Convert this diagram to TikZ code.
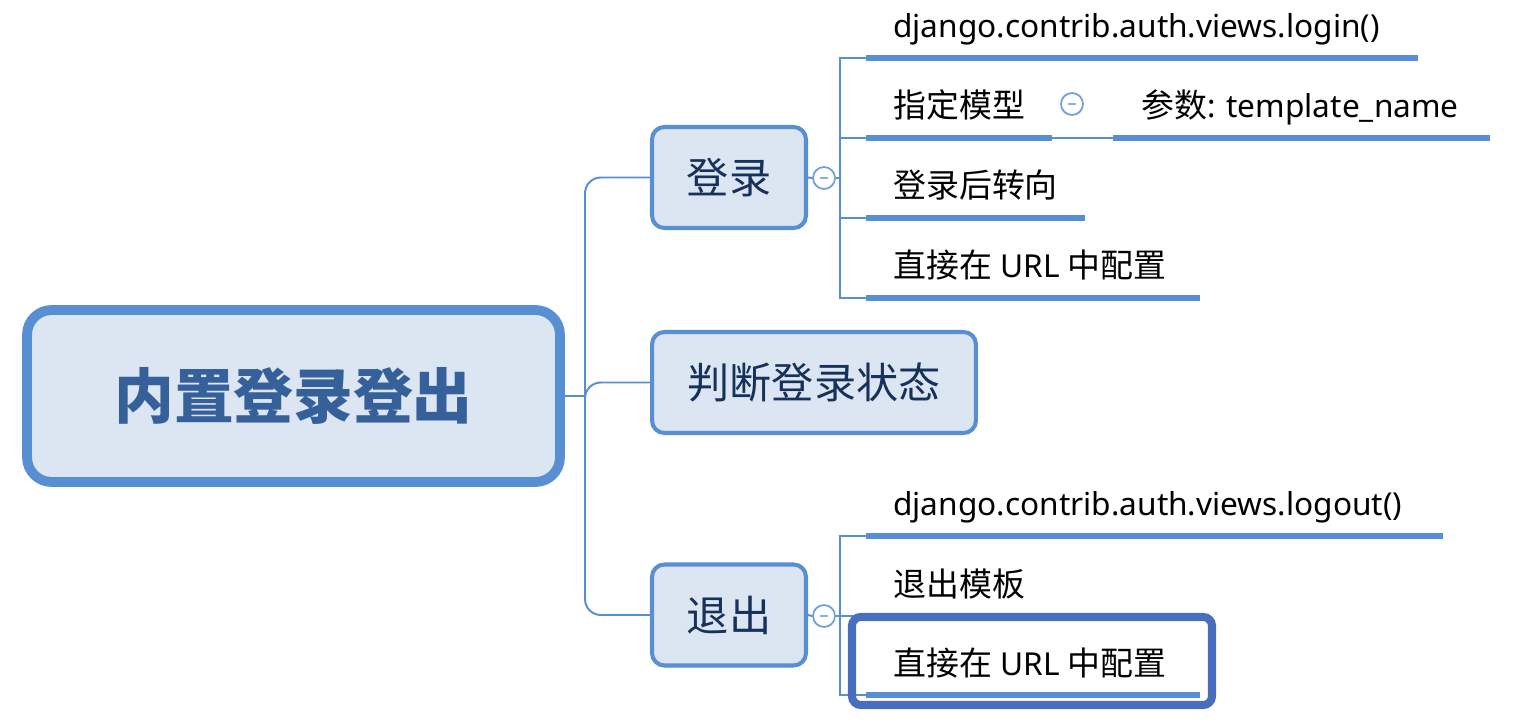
\documentclass[tikz,border=0pt]{standalone}
\usepackage{fontspec}
\setmainfont{Noto Sans}
\newfontfamily\cjk{Noto Sans CJK SC}
\newfontfamily\cjksub{Noto Sans CJK SC}[Scale=1.04]
\usetikzlibrary{positioning,calc}
\definecolor{mapblue}{RGB}{88,142,210}
\definecolor{mapfill}{RGB}{220,230,242}
\definecolor{roottext}{RGB}{53,96,154}
\definecolor{topictext}{RGB}{23,50,90}
\definecolor{selblue}{RGB}{74,110,190}
\definecolor{darkline}{RGB}{37,86,176}
\tikzset{
  rootbox/.style={draw=mapblue, line width=5.6pt, fill=mapfill, rounded corners=14pt,
    minimum width=10.66cm, minimum height=3.44cm, text=roottext,
    font=\cjk\bfseries\fontsize{34}{38}\selectfont},
  topicbox/.style={draw=mapblue, line width=2.3pt, fill=mapfill, rounded corners=7pt,
    minimum height=2.02cm, text=topictext, font=\cjk\fontsize{24}{28}\selectfont},
  subtext/.style={anchor=base west, inner sep=0pt, font=\fontsize{18}{22}\selectfont},
  link/.style={draw=mapblue, line width=1.1pt},
  uline/.style={draw=mapblue, line width=3.4pt},
  fold/.style={circle, draw=mapblue!85, line width=1pt, fill=white, minimum size=0.44cm, inner sep=0pt},
  foldbar/.style={draw=mapblue!70, line width=1pt},
  selbox/.style={draw=selblue, line width=4.6pt, rounded corners=5pt}
}
\begin{document}
\begin{tikzpicture}[x=0.02cm, y=-0.02cm]
    \useasboundingbox (0,0) rectangle (1516,726);
    % Main topics
    \node[rootbox] (root) at (293.5,396) {内置登录登出};
    \node[topicbox, minimum width=3.08cm] (login)  at (729,177.5) {登录};
    \node[topicbox, minimum width=6.48cm] (status) at (814,382.5) {判断登录状态};
    \node[topicbox, minimum width=3.08cm] (logout) at (729,615)   {退出};
    % Trunk
    \coordinate (trunk) at (585,396);
    \draw[link] (root.east) -- (trunk);
    \draw[link, rounded corners=9pt] (trunk) |- (login.west);
    \draw[link, rounded corners=9pt] (trunk) |- (status.west);
    \draw[link, rounded corners=9pt] (trunk) |- (logout.west);
    % Fold buttons
    \node[fold] (lfold) at (824,178) {};
    \node[fold] (ofold) at (824,616) {};
    \node[fold] (mfold) at (1072,104) {};
    \draw[link] (login.east) -- (lfold.west);
    \draw[link] (logout.east) -- (ofold.west);
    \foreach \f in {lfold, ofold, mfold}
        \draw[foldbar] ($(\f)+(-4,0)$) -- ($(\f)+(4,0)$);
    \coordinate (lbus) at (840,178);
    \coordinate (obus) at (840,616);
    \draw[link] (lfold.east) -- (lbus);
    \draw[link] (ofold.east) -- (obus);
    % Login subtopics
    \coordinate (l1a) at (866,58);  \coordinate (l1b) at (1418,58);
    \coordinate (l2a) at (866,138); \coordinate (l2b) at (1052,138);
    \coordinate (l3a) at (866,218); \coordinate (l3b) at (1085,218);
    \coordinate (l4a) at (866,298); \coordinate (l4b) at (1200,298);
    \coordinate (p1a) at (1113,138); \coordinate (p1b) at (1490,138);
    \foreach \s in {l1a, l2a, l3a, l4a}
        \draw[link] (lbus) |- (\s);
    \draw[link] (l2b) -- (p1a);
    \foreach \a/\b in {l1a/l1b, l2a/l2b, l3a/l3b, l4a/l4b, p1a/p1b}
        \draw[uline] (\a) -- (\b);
    \node[subtext] (loginfn)  at (893,38)  {django.contrib.auth.views.login()};
    \node[subtext] (model)    at (893,118) {\cjksub 指定模型};
    \node[subtext] (param)    at (1141,118) {{\cjksub 参数}: template\_name};
    \node[subtext] (redirect) at (893,198) {\cjksub 登录后转向};
    \node[subtext] (urlcfg)   at (893,278) {{\cjksub 直接在} URL {\cjksub 中配置}};
    % Logout subtopics
    \coordinate (o1a) at (866,536); \coordinate (o1b) at (1443,536);
    \coordinate (o2a) at (866,616); \coordinate (o2b) at (1052,616);
    \coordinate (o3a) at (866,695); \coordinate (o3b) at (1200,695);
    \foreach \s in {o1a, o2a, o3a}
        \draw[link] (obus) |- (\s);
    \draw[uline] (o1a) -- (o1b);
    \draw[uline, draw=darkline] (o2a) -- (o2b);
    \draw[uline] (o3a) -- (o3b);
    \node[subtext] (logoutfn)  at (893,516) {django.contrib.auth.views.logout()};
    \node[subtext] (logouttpl) at (893,596) {\cjksub 退出模板};
    \node[subtext] (logouturl) at (893,675) {{\cjksub 直接在} URL {\cjksub 中配置}};
    % Selection
    \draw[selbox] (852,617) rectangle (1212,705);
\end{tikzpicture}
\end{document}
